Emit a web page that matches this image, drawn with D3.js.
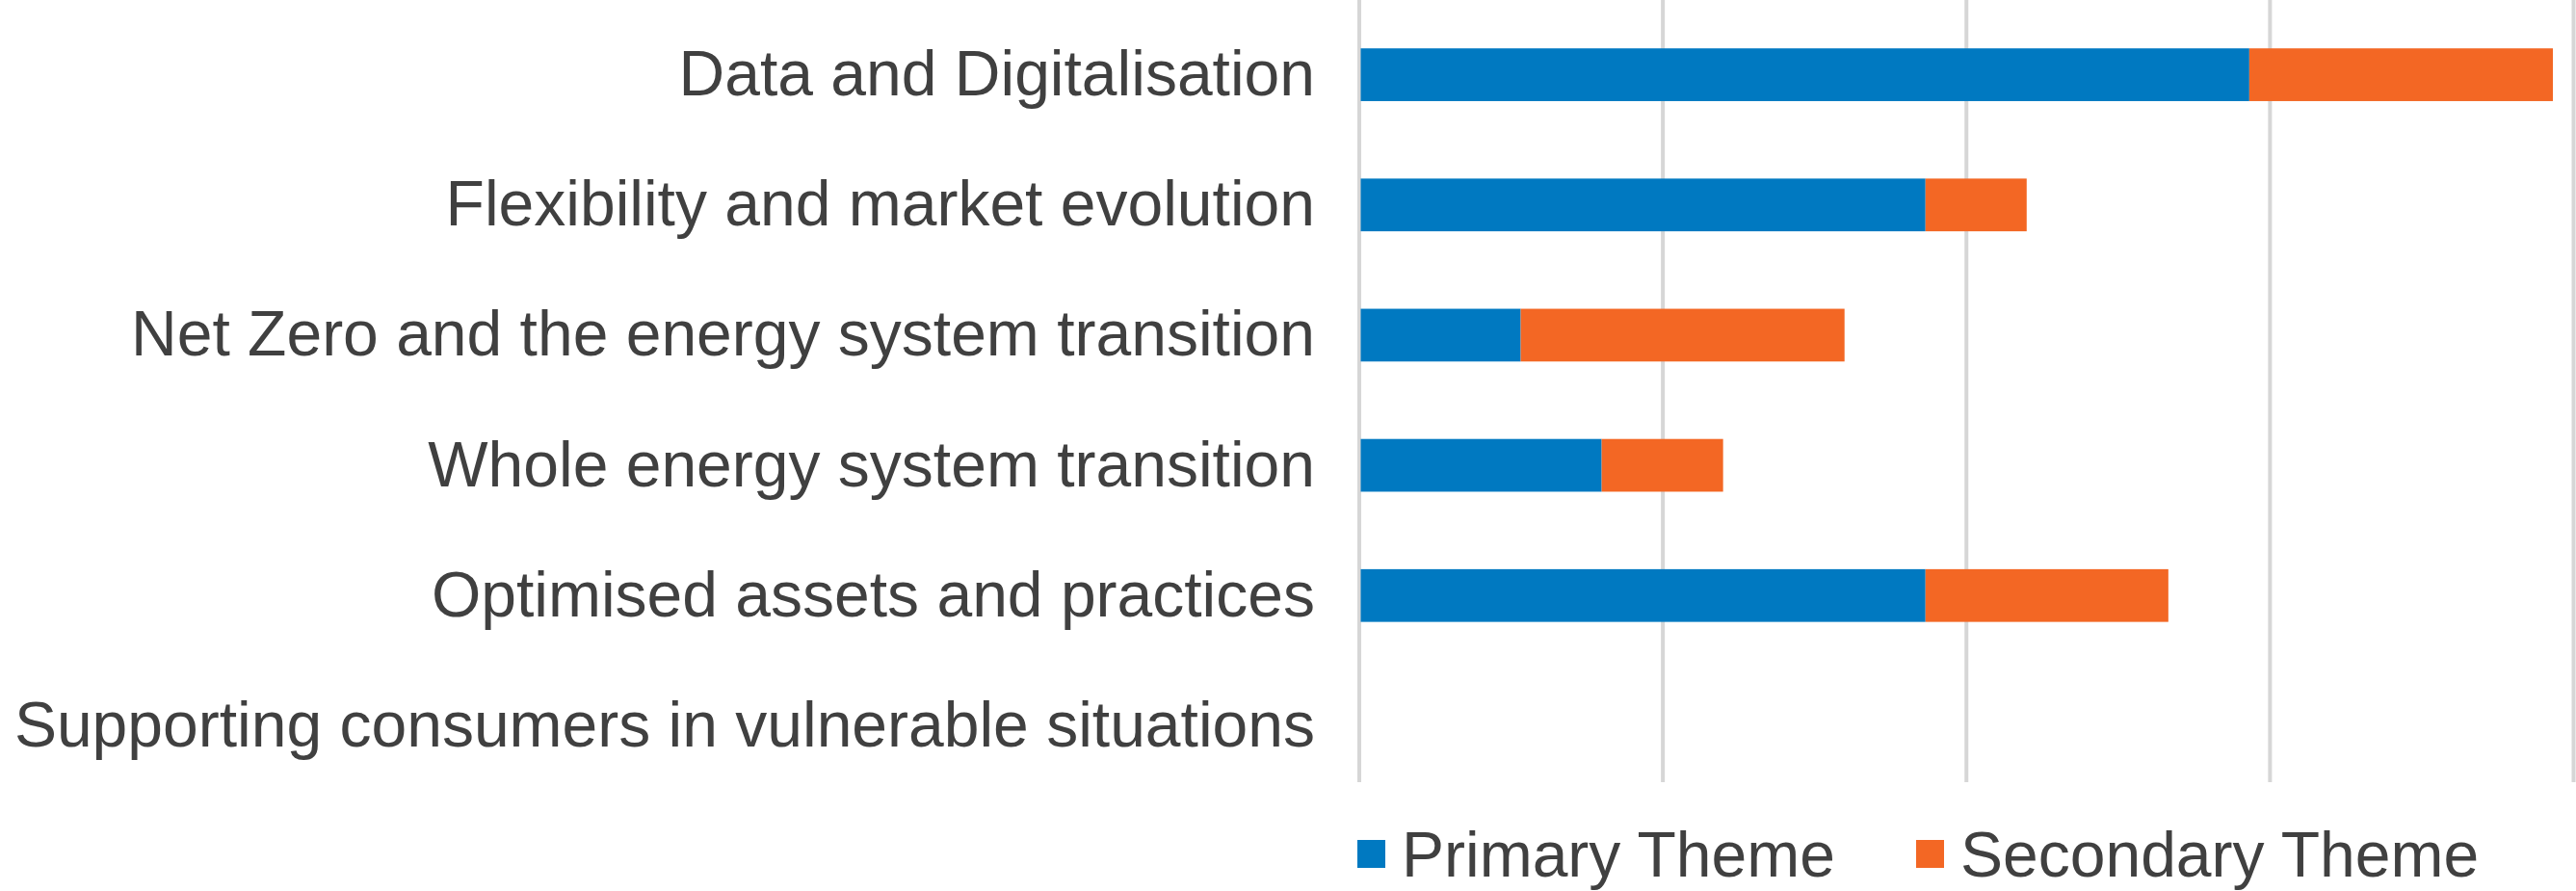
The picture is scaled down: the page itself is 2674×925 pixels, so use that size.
<!DOCTYPE html>
<html>
<head>
<meta charset="utf-8">
<script src="https://cdn.jsdelivr.net/npm/d3@7"></script>
<style>
  html, body { margin: 0; padding: 0; background: #ffffff; }
  svg { display: block; }
</style>
</head>
<body>
<svg id="chart" width="2674" height="925"></svg>
<script>
const categories = [
  "Data and Digitalisation",
  "Flexibility and market evolution",
  "Net Zero and the energy system transition",
  "Whole energy system transition",
  "Optimised assets and practices",
  "Supporting consumers in vulnerable situations"
];
const primaryTheme = [44, 28, 8, 12, 28, 0];
const secondaryTheme = [15, 5, 16, 6, 12, 0];
const seriesNames = ["Primary Theme", "Secondary Theme"];
const xTicks = [0, 15, 30, 45, 60];

const colors = ["#0079C1", "#F36724"];
const textColor = "#404040";
const fontFamily = "'Liberation Sans', Arial, Helvetica, sans-serif";
const fontSize = 66;

const svg = d3.select("#chart");

const x = d3.scaleLinear().domain([0, 60]).range([1410.5, 2671]);
const y = d3.scaleBand().domain(categories).range([10, 821]).paddingInner(0.595).paddingOuter(0.2975);

const gridBottom = 812;

// gridlines
const grid = svg.append("g")
  .call(d3.axisTop(x).tickValues(xTicks).tickSize(-gridBottom).tickFormat(""));
grid.select(".domain").remove();
grid.selectAll(".tick line").attr("stroke", "#d6d6d6").attr("stroke-width", 4);

// stacked data
const rows = categories.map((c, i) => ({ cat: c, p: primaryTheme[i], s: secondaryTheme[i] }));
const stack = d3.stack().keys(["p", "s"])(rows);

const barStart = x(0) + 2;
svg.append("g").selectAll("g")
  .data(stack)
  .join("g")
  .attr("fill", (d, i) => colors[i])
  .selectAll("rect")
  .data(d => d)
  .join("rect")
  .attr("x", d => Math.max(barStart, x(d[0])))
  .attr("y", d => y(d.data.cat))
  .attr("width", d => Math.max(0, x(d[1]) - Math.max(barStart, x(d[0]))))
  .attr("height", y.bandwidth());

// category labels
svg.append("g").selectAll("text")
  .data(categories)
  .join("text")
  .attr("x", 1365)
  .attr("y", d => y(d) + y.bandwidth() / 2 + 21.5)
  .attr("text-anchor", "end")
  .attr("font-family", fontFamily)
  .attr("font-size", fontSize)
  .attr("fill", textColor)
  .text(d => d);

// legend
const legendX = [1409, 1989];
const legend = svg.append("g");
seriesNames.forEach((name, i) => {
  legend.append("rect")
    .attr("x", legendX[i]).attr("y", 872).attr("width", 29).attr("height", 29)
    .attr("fill", colors[i]);
  legend.append("text")
    .attr("x", legendX[i] + 46).attr("y", 910)
    .attr("font-family", fontFamily)
    .attr("font-size", fontSize)
    .attr("fill", textColor)
    .text(name);
});
</script>
</body>
</html>
